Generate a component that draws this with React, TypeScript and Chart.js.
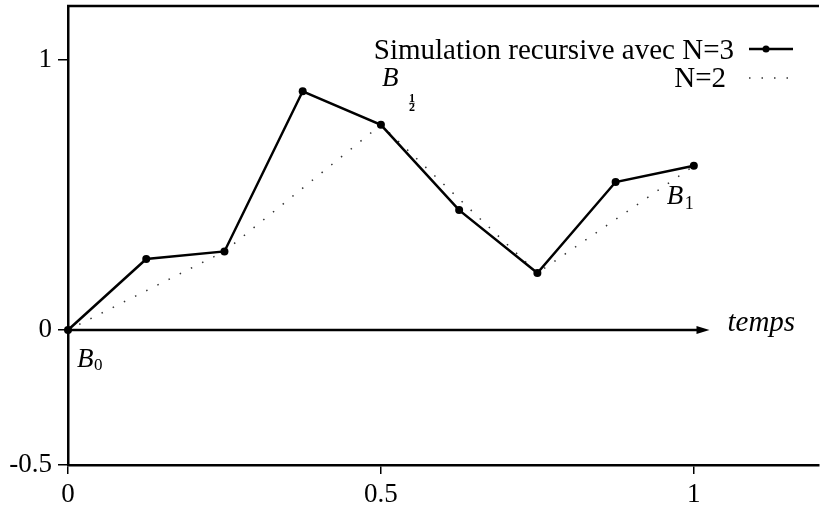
import React, { useEffect, useRef } from "react";
import { Chart, registerables } from "chart.js";
Chart.register(...registerables);

const timesN3 = [0, 0.125, 0.25, 0.375, 0.5, 0.625, 0.75, 0.875, 1];
const valuesN3 = [0, 0.263, 0.291, 0.884, 0.76, 0.444, 0.211, 0.548, 0.608];
const timesN2 = [0, 0.25, 0.5, 0.75, 1];
const valuesN2 = [0, 0.291, 0.76, 0.211, 0.608];
const xTicks = [0, 0.5, 1];
const xTickLabels = ["0", "0.5", "1"];
const yTicks = [-0.5, 0, 1];
const yTickLabels = ["-0.5", "0", "1"];
const legendLabels = ["Simulation recursive avec N=3", "N=2"];
const axisTitle = "temps";

const SERIF = "'Liberation Serif', 'Times New Roman', serif";
const INK = "#000";

const decorPlugin = {
  id: "decor",
  beforeDatasetsDraw(chart: any) {
    const { ctx, chartArea, scales } = chart;
    const x = scales.x;
    const y = scales.y;
    const y0 = y.getPixelForValue(0);
    const tip = x.getPixelForValue(1.025);
    ctx.save();
    ctx.strokeStyle = INK;
    ctx.fillStyle = INK;
    ctx.lineWidth = 2.5;
    // top frame line
    ctx.beginPath();
    ctx.moveTo(chartArea.left - 1, chartArea.top);
    ctx.lineTo(chartArea.right, chartArea.top);
    ctx.stroke();
    // time axis with arrow
    ctx.beginPath();
    ctx.moveTo(chartArea.left, y0);
    ctx.lineTo(tip - 8, y0);
    ctx.stroke();
    ctx.beginPath();
    ctx.moveTo(tip, y0);
    ctx.lineTo(tip - 13, y0 - 4);
    ctx.lineTo(tip - 13, y0 + 4);
    ctx.closePath();
    ctx.fill();
    ctx.restore();
  },
  afterDraw(chart: any) {
    const { ctx, chartArea, scales } = chart;
    const x = scales.x;
    const y = scales.y;
    const y0 = y.getPixelForValue(0);
    const tip = x.getPixelForValue(1.025);
    ctx.save();
    ctx.fillStyle = INK;
    ctx.strokeStyle = INK;
    ctx.textBaseline = "alphabetic";

    // axis title
    ctx.font = `italic 29px ${SERIF}`;
    ctx.textAlign = "left";
    ctx.fillText(axisTitle, tip + 18, y0 + 1);

    // B0
    const px0 = x.getPixelForValue(timesN2[0]);
    const py0 = y.getPixelForValue(valuesN2[0]);
    ctx.font = `italic 27px ${SERIF}`;
    ctx.fillText("B", px0 + 9, py0 + 37);
    ctx.font = `17px ${SERIF}`;
    ctx.fillText("0", px0 + 26, py0 + 40);

    // B 1/2
    const pxh = x.getPixelForValue(timesN2[2]);
    const pyh = y.getPixelForValue(valuesN2[2]);
    ctx.font = `italic 27px ${SERIF}`;
    ctx.fillText("B", pxh + 1, pyh - 39);
    ctx.font = `bold 12px ${SERIF}`;
    ctx.textAlign = "center";
    ctx.fillText("1", pxh + 31, pyh - 23);
    ctx.fillText("2", pxh + 31, pyh - 14);
    ctx.lineWidth = 0.6;
    ctx.beginPath();
    ctx.moveTo(pxh + 28, pyh - 21.5);
    ctx.lineTo(pxh + 34, pyh - 21.5);
    ctx.stroke();
    ctx.textAlign = "left";

    // B1
    const px1 = x.getPixelForValue(timesN2[4]);
    const py1 = y.getPixelForValue(valuesN2[4]);
    ctx.font = `italic 27px ${SERIF}`;
    ctx.fillText("B", px1 - 27, py1 + 38);
    ctx.font = `18px ${SERIF}`;
    ctx.fillText("1", px1 - 9, py1 + 43);

    // legend
    const lx = chartArea.right - 85;
    ctx.font = `29px ${SERIF}`;
    ctx.textAlign = "right";
    ctx.fillText(legendLabels[0], lx, chartArea.top + 53);
    ctx.fillText(legendLabels[1], lx - 8, chartArea.top + 81);
    const sx0 = lx + 15;
    const sx1 = lx + 59;
    ctx.lineWidth = 2.5;
    ctx.setLineDash([]);
    ctx.beginPath();
    ctx.moveTo(sx0, chartArea.top + 43);
    ctx.lineTo(sx1, chartArea.top + 43);
    ctx.stroke();
    ctx.beginPath();
    ctx.arc(sx0 + 17, chartArea.top + 43, 3.5, 0, Math.PI * 2);
    ctx.fill();
    ctx.lineWidth = 1.5;
    ctx.strokeStyle = "#333";
    ctx.setLineDash([1.5, 11]);
    ctx.beginPath();
    ctx.moveTo(sx0, chartArea.top + 72);
    ctx.lineTo(sx1, chartArea.top + 72);
    ctx.stroke();
    ctx.restore();
  },
};

export default function App() {
  const ref = useRef<HTMLCanvasElement>(null);
  useEffect(() => {
    if (!ref.current) return;
    const chart = new Chart(ref.current, {
      type: "line",
      data: {
        datasets: [
          {
            label: legendLabels[0],
            data: timesN3.map((t, i) => ({ x: t, y: valuesN3[i] })),
            borderColor: INK,
            backgroundColor: INK,
            borderWidth: 2.5,
            pointRadius: 4,
            pointBackgroundColor: INK,
            pointBorderWidth: 0,
            tension: 0,
            clip: false as any,
          },
          {
            label: legendLabels[1],
            data: timesN2.map((t, i) => ({ x: t, y: valuesN2[i] })),
            borderColor: "#333",
            borderWidth: 1.5,
            borderDash: [1.5, 11],
            pointRadius: 0,
            tension: 0,
            clip: false as any,
          },
        ],
      },
      options: {
        responsive: false,
        animation: false,
        layout: { padding: { top: 6, right: 0, left: 0, bottom: 0 } },
        plugins: {
          legend: { display: false },
          tooltip: { enabled: false },
        },
        scales: {
          x: {
            type: "linear",
            min: 0,
            max: 1.2,
            afterBuildTicks: (s: any) => {
              s.ticks = xTicks.map((v) => ({ value: v }));
            },
            afterFit: (s: any) => {
              s.height = 46;
              s.paddingLeft = 0;
              s.paddingRight = 0;
            },
            ticks: {
              color: INK,
              font: { family: SERIF, size: 27 },
              padding: 5,
              maxRotation: 0,
              autoSkip: false,
              callback: (v: any) => {
                const i = xTicks.indexOf(Number(v));
                return i >= 0 ? xTickLabels[i] : "";
              },
            },
            grid: {
              drawOnChartArea: false,
              drawTicks: true,
              tickLength: 9,
              color: INK,
              lineWidth: 1.5,
            },
            border: { display: true, color: INK, width: 2.5 },
          },
          y: {
            type: "linear",
            min: -0.5,
            max: 1.2,
            afterBuildTicks: (s: any) => {
              s.ticks = yTicks.map((v) => ({ value: v }));
            },
            afterFit: (s: any) => {
              s.width = 68;
              s.paddingTop = 0;
              s.paddingBottom = 0;
            },
            ticks: {
              color: INK,
              font: { family: SERIF, size: 27 },
              padding: 6,
              autoSkip: false,
              callback: (v: any) => {
                const i = yTicks.indexOf(Number(v));
                return i >= 0 ? yTickLabels[i] : "";
              },
            },
            grid: {
              drawOnChartArea: false,
              drawTicks: true,
              tickLength: 10,
              color: INK,
              lineWidth: 1.5,
            },
            border: { display: true, color: INK, width: 2.5 },
          },
        },
      },
      plugins: [decorPlugin],
    });
    return () => chart.destroy();
  }, []);
  return (
    <div style={{ position: "absolute", left: 0, top: 0, width: 823, height: 511, background: "#fff" }}>
      <canvas ref={ref} width={823} height={511} />
    </div>
  );
}
